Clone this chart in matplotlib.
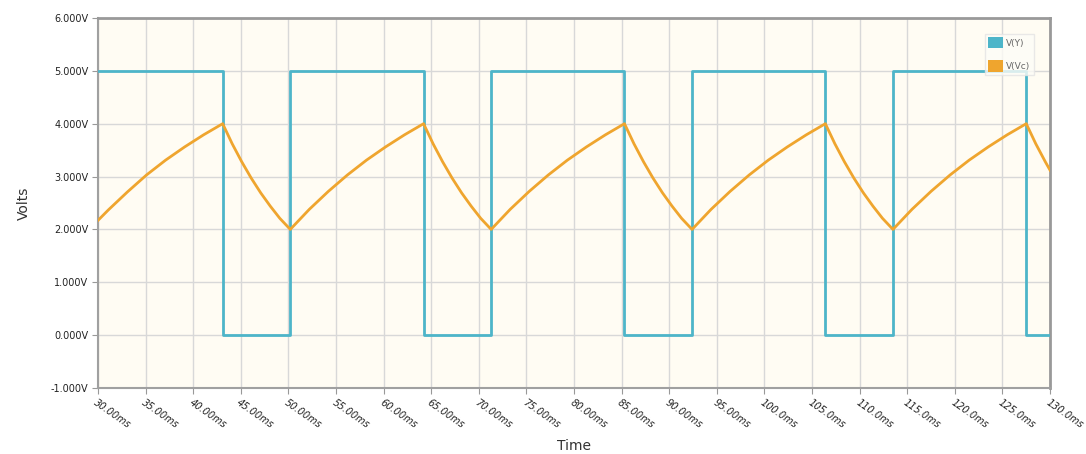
import matplotlib
matplotlib.use("Agg")
import matplotlib.pyplot as plt
from matplotlib.patches import Patch

# square wave V(Y): edge times (ms) and level after each edge (V)
y_t = [30.0, 43.1, 50.2, 64.2, 71.3, 85.3, 92.4, 106.4, 113.5, 127.5, 130.0]
y_v = [5, 0, 5, 0, 5, 0, 5, 0, 5, 0, 0]

# capacitor voltage V(Vc)
vc_t = [30.0, 31.1, 33.1, 35.1, 37.1, 39.1, 41.1, 43.1,
        44.1, 45.1, 46.1, 47.1, 48.1, 49.1, 50.2,
        52.2, 54.2, 56.2, 58.2, 60.2, 62.2, 64.2,
        65.2, 66.2, 67.2, 68.2, 69.2, 70.2, 71.3,
        73.3, 75.3, 77.3, 79.3, 81.3, 83.3, 85.3,
        86.3, 87.3, 88.3, 89.3, 90.3, 91.3, 92.4,
        94.4, 96.4, 98.4, 100.4, 102.4, 104.4, 106.4,
        107.4, 108.4, 109.4, 110.4, 111.4, 112.4, 113.5,
        115.5, 117.5, 119.5, 121.5, 123.5, 125.5, 127.5,
        128.5, 129.5, 130.0]
vc_v = [2.17, 2.37, 2.71, 3.03, 3.31, 3.56, 3.79, 4.00,
        3.62, 3.28, 2.97, 2.69, 2.44, 2.21, 2.00,
        2.38, 2.72, 3.03, 3.31, 3.56, 3.79, 4.00,
        3.62, 3.28, 2.97, 2.69, 2.44, 2.21, 2.00,
        2.38, 2.72, 3.03, 3.31, 3.56, 3.79, 4.00,
        3.62, 3.28, 2.97, 2.69, 2.44, 2.21, 2.00,
        2.38, 2.72, 3.03, 3.31, 3.56, 3.79, 4.00,
        3.62, 3.28, 2.97, 2.69, 2.44, 2.21, 2.00,
        2.38, 2.72, 3.03, 3.31, 3.56, 3.79, 4.00,
        3.62, 3.28, 3.12]

x_ticks = [30, 35, 40, 45, 50, 55, 60, 65, 70, 75, 80, 85, 90, 95,
           100, 105, 110, 115, 120, 125, 130]
x_labels = ["30.00ms", "35.00ms", "40.00ms", "45.00ms", "50.00ms", "55.00ms",
            "60.00ms", "65.00ms", "70.00ms", "75.00ms", "80.00ms", "85.00ms",
            "90.00ms", "95.00ms", "100.0ms", "105.0ms", "110.0ms", "115.0ms",
            "120.0ms", "125.0ms", "130.0ms"]
y_ticks = [-1, 0, 1, 2, 3, 4, 5, 6]
y_labels = ["-1.000V", "0.000V", "1.000V", "2.000V", "3.000V", "4.000V",
            "5.000V", "6.000V"]

teal = "#4db5c9"
orange = "#efa52e"

fig = plt.figure(figsize=(10.86, 4.54), dpi=100)
ax = fig.add_axes([0.0902, 0.1454, 0.8767, 0.815])
ax.set_facecolor("#fffcf3")

ax.plot(y_t, y_v, drawstyle="steps-post", color=teal, lw=2.0, zorder=3)
ax.plot(vc_t, vc_v, color=orange, lw=2.0, zorder=4)

ax.set_xlim(30, 130)
ax.set_ylim(-1, 6)
ax.set_xticks(x_ticks)
ax.set_xticklabels(x_labels, rotation=-35, ha="left", va="top",
                   rotation_mode="anchor", fontsize=7, style="italic",
                   color="#222222")
ax.set_yticks(y_ticks)
ax.set_yticklabels(y_labels, fontsize=7, color="#222222")
ax.grid(True, color="#d8d8d8", lw=1.0, zorder=0)
ax.set_axisbelow(True)
ax.tick_params(length=4, color="#999999", pad=3)

for s in ["left", "bottom"]:
    ax.spines[s].set_color("#a0a0a0")
    ax.spines[s].set_linewidth(1.5)
for s in ["top", "right"]:
    ax.spines[s].set_color("#999999")
    ax.spines[s].set_linewidth(2.0)

ax.set_ylabel("Volts", fontsize=10, color="#333333", labelpad=14)
ax.set_xlabel("Time", fontsize=10, color="#333333", labelpad=6)

handles = [Patch(facecolor=teal, edgecolor="none", label="V(Y)"),
           Patch(facecolor=orange, edgecolor="none", label="V(Vc)")]
leg = ax.legend(handles=handles, loc="upper right", fontsize=6.5,
                frameon=True, fancybox=False, handlelength=1.6,
                handleheight=1.6, borderpad=0.35, labelspacing=1.3,
                handletextpad=0.4, bbox_to_anchor=(0.9875, 0.97))
leg.get_frame().set_edgecolor("#e4e4e4")
leg.get_frame().set_facecolor("#fdfcf7")
for t in leg.get_texts():
    t.set_color("#666666")

fig.savefig("out.png", dpi=100)
